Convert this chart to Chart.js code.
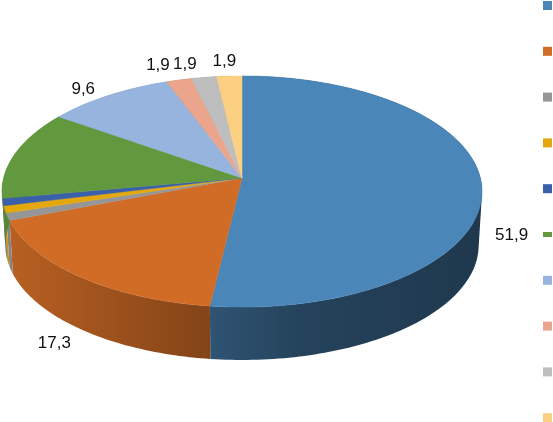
<!DOCTYPE html>
<html lang="">
  <head>
    <meta charset="utf-8">
    <title>Pie</title>
    <style> body {padding: 0; margin: 0; background: #fff;} </style>
    <script src="https://cdn.jsdelivr.net/npm/chart.js@4/dist/chart.umd.js"></script>
  </head>
  <body>
    <canvas id="pieChart" width="553" height="422"></canvas>
    <script>

      var categories = ['1', '2', '3', '4', '5', '6', '7', '8', '9', '10'];
      var values = [51.9, 17.3, 1.0, 1.0, 1.0, 12.5, 9.6, 1.9, 1.9, 1.9];
      var valueLabels = ['51,9', '17,3', '', '', '', '', '9,6', '1,9', '1,9', '1,9'];
      var colors = ['#4a86b8', '#d06c26', '#969696', '#e4a80c', '#3a60aa',
                    '#62983e', '#96b4de', '#eba58c', '#bebebe', '#fcd082'];

      // tilted disc: top face and bottom face of the pie
      var topFace = {cx: 242, cy: 178, a: 238.4, b: 114, k: 0.117};
      var bottomFace = {cx: 242, cy: 232, a: 235, b: 113, k: 0.117};

      // wall shade by x position
      var wallShade = [[0, 0.9], [210, 0.63], [300, 0.5], [482, 0.42]];

      function project(face, angle) {
        var u = Math.cos(angle);   // chart.js angles start at -PI/2
        var v = Math.sin(angle);
        var w = 1 - face.k * v;
        return [face.cx + face.a * u / w, face.cy + face.b * v / w];
      }

      function edge(ctx, face, from, to) {
        var steps = Math.max(2, Math.ceil(Math.abs(to - from) / 0.01));
        for (var i = 0; i <= steps; i++) {
          var p = project(face, from + (to - from) * i / steps);
          ctx.lineTo(p[0], p[1]);
        }
      }

      function darken(hex, f) {
        var n = parseInt(hex.slice(1), 16);
        return 'rgb(' + Math.round((n >> 16) * f) + ',' +
          Math.round(((n >> 8) & 255) * f) + ',' + Math.round((n & 255) * f) + ')';
      }

      class Arc3d extends Chart.ArcElement {
        static id = 'arc3d';
        draw(ctx) {
          var c = this.options.backgroundColor;
          ctx.save();
          ctx.beginPath();
          ctx.moveTo(topFace.cx, topFace.cy);
          edge(ctx, topFace, this.startAngle, this.endAngle);
          ctx.closePath();
          ctx.fillStyle = c;
          ctx.strokeStyle = c;
          ctx.lineWidth = 0.5;
          ctx.fill();
          ctx.stroke();
          ctx.restore();
        }
      }

      class Pie3d extends Chart.PieController {
        static id = 'pie3d';
        static defaults = Object.assign({}, Chart.PieController.defaults, {dataElementType: 'arc3d'});
      }

      Chart.register(Arc3d, Pie3d);

      // the side of the pie, has to be under all the top faces
      var wallPlugin = {
        id: 'walls',
        beforeDatasetsDraw(chart) {
          var ctx = chart.ctx;
          chart.getDatasetMeta(0).data.forEach((arc, i) => {
            var grad = ctx.createLinearGradient(0, 0, 482, 0);
            wallShade.forEach(s => grad.addColorStop(s[0] / 482, darken(colors[i], s[1])));
            ctx.fillStyle = grad;
            // little quads in one path, a single polygon pinches where the two outlines cross
            var steps = Math.max(2, Math.ceil((arc.endAngle - arc.startAngle) / 0.02));
            ctx.beginPath();
            for (var n = 0; n < steps; n++) {
              var a0 = arc.startAngle + (arc.endAngle - arc.startAngle) * n / steps;
              var a1 = arc.startAngle + (arc.endAngle - arc.startAngle) * (n + 1) / steps;
              var q = [project(topFace, a0), project(topFace, a1), project(bottomFace, a1), project(bottomFace, a0)];
              // same winding for every quad so they add up in the fill
              var area = 0;
              q.forEach((p, j) => {
                var r = q[(j + 1) % 4];
                area += p[0] * r[1] - r[0] * p[1];
              });
              if (area < 0) q.reverse();
              ctx.moveTo(q[0][0], q[0][1]);
              ctx.lineTo(q[1][0], q[1][1]);
              ctx.lineTo(q[2][0], q[2][1]);
              ctx.lineTo(q[3][0], q[3][1]);
              ctx.closePath();
            }
            ctx.fill();
          });
        }
      };

      var labelPlugin = {
        id: 'sliceLabels',
        afterDatasetsDraw(chart, args, opts) {
          var ctx = chart.ctx;
          ctx.save();
          ctx.font = opts.font;
          ctx.fillStyle = opts.color;
          ctx.textAlign = 'center';
          ctx.textBaseline = 'middle';
          chart.getDatasetMeta(0).data.forEach((arc, i) => {
            if (!valueLabels[i]) return;
            var p = project(topFace, (arc.startAngle + arc.endAngle) / 2);
            ctx.fillText(valueLabels[i], p[0] + opts.offsets[i][0], p[1] + opts.offsets[i][1]);
          });
          ctx.restore();
        }
      };

      // legend keys only, the reference has no legend text
      var keysPlugin = {
        id: 'legendKeys',
        afterDraw(chart, args, opts) {
          var ctx = chart.ctx;
          categories.forEach((name, i) => {
            var h = i === opts.thinRow ? 5 : opts.size;
            ctx.fillStyle = colors[i];
            ctx.fillRect(opts.x, opts.y + opts.step * i - h / 2, opts.size, h);
          });
        }
      };

      new Chart(document.getElementById('pieChart'), {
        type: 'pie3d',
        data: {
          labels: categories,
          datasets: [{data: values, backgroundColor: colors, borderWidth: 0}]
        },
        options: {
          responsive: false,
          animation: false,
          plugins: {
            legend: {display: false},
            tooltip: {enabled: false},
            sliceLabels: {
              font: '17px "Liberation Sans"',
              color: '#111111',
              offsets: {
                0: [30, 50],
                1: [-26, 66],
                6: [-25, -6],
                7: [-21, -15],
                8: [-19, -13],
                9: [-5, -15]
              }
            },
            legendKeys: {x: 543, y: 5.5, step: 45.8, size: 9, thinRow: 5}
          }
        },
        plugins: [wallPlugin, labelPlugin, keysPlugin]
      });
    </script>
  </body>
</html>
